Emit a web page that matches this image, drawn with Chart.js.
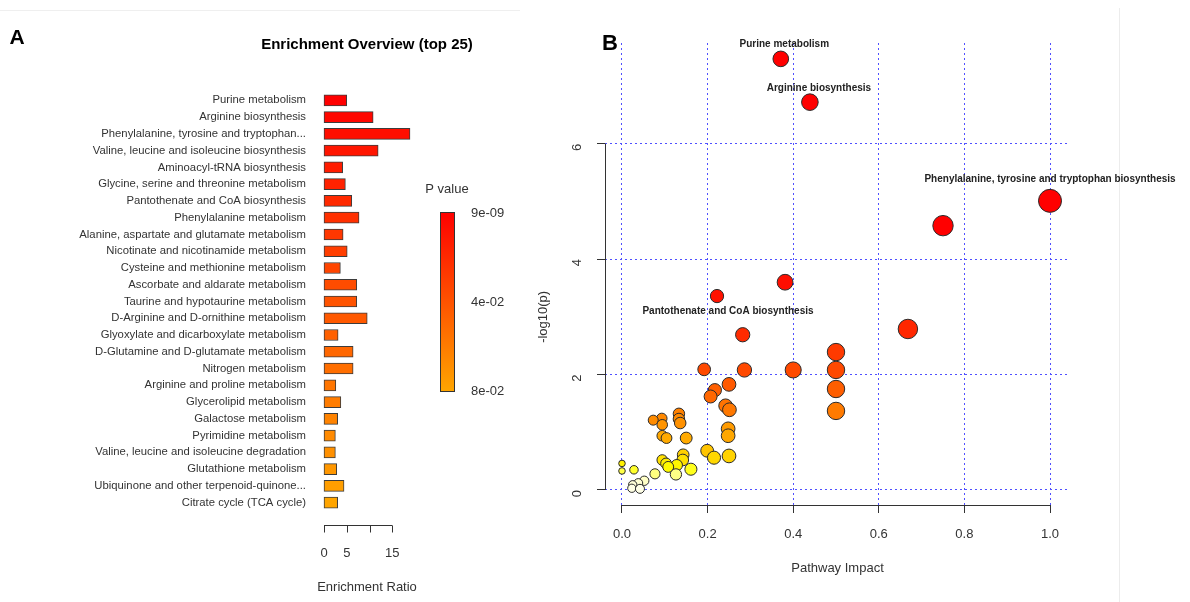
<!DOCTYPE html>
<html>
<head>
<meta charset="utf-8">
<script src="https://cdn.jsdelivr.net/npm/chart.js@4.4.0/dist/chart.umd.min.js"></script>
<style>
  html, body { margin: 0; padding: 0; background: #fff; }
  #wrap { position: relative; width: 1190px; height: 602px; overflow: hidden; }
  canvas { position: absolute; top: 0; }
  #enrich { left: 0; }
  #impact { left: 520px; }
</style>
</head>
<body>
<div id="wrap">
  <canvas id="enrich" width="520" height="602"></canvas>
  <canvas id="impact" width="670" height="602"></canvas>
</div>
<script>
const FONT = "'Liberation Sans', Arial, Helvetica, sans-serif";
Chart.defaults.font.family = FONT;

// ---- Panel A: enrichment overview ----
const pathways = [
  'Purine metabolism',
  'Arginine biosynthesis',
  'Phenylalanine, tyrosine and tryptophan...',
  'Valine, leucine and isoleucine biosynthesis',
  'Aminoacyl-tRNA biosynthesis',
  'Glycine, serine and threonine metabolism',
  'Pantothenate and CoA biosynthesis',
  'Phenylalanine metabolism',
  'Alanine, aspartate and glutamate metabolism',
  'Nicotinate and nicotinamide metabolism',
  'Cysteine and methionine metabolism',
  'Ascorbate and aldarate metabolism',
  'Taurine and hypotaurine metabolism',
  'D-Arginine and D-ornithine metabolism',
  'Glyoxylate and dicarboxylate metabolism',
  'D-Glutamine and D-glutamate metabolism',
  'Nitrogen metabolism',
  'Arginine and proline metabolism',
  'Glycerolipid metabolism',
  'Galactose metabolism',
  'Pyrimidine metabolism',
  'Valine, leucine and isoleucine degradation',
  'Glutathione metabolism',
  'Ubiquinone and other terpenoid-quinone...',
  'Citrate cycle (TCA cycle)'
];
const enrichmentRatio = [
  5.0, 10.8, 18.9, 11.9, 4.1, 4.7, 6.1, 7.7, 4.2, 5.1,
  3.6, 7.2, 7.2, 9.5, 3.1, 6.4, 6.4, 2.6, 3.7, 3.0,
  2.5, 2.5, 2.8, 4.4, 3.0
];
const ratioTicks = [0, 5, 10, 15];
const ratioTickLabels = ['0', '5', '', '15'];
const pValueLegend = ['9e-09', '4e-02', '8e-02'];

// ---- Panel B: pathway impact ----
const pathwayImpact = [
  0.371, 0.439, 1.0, 0.75, 0.381, 0.222, 0.668, 0.282, 0.5, 0.192,
  0.286, 0.400, 0.5, 0.25, 0.5, 0.217, 0.207, 0.242, 0.251, 0.5,
  0.133, 0.093, 0.133, 0.073, 0.136, 0.094, 0.248, 0.094, 0.248, 0.104,
  0.150, 0.199, 0.143, 0.25, 0.215, 0.142, 0.094, 0.103, 0.0, 0.128,
  0.108, 0.161, 0.028, 0.0, 0.077, 0.126, 0.052, 0.038, 0.025, 0.023,
  0.042
];
const negLog10P = [
  7.47, 6.72, 5.01, 4.58, 3.60, 3.36, 2.79, 2.69, 2.39, 2.09,
  2.08, 2.08, 2.08, 1.83, 1.75, 1.73, 1.62, 1.46, 1.39, 1.37,
  1.32, 1.24, 1.23, 1.21, 1.16, 1.13, 1.06, 0.94, 0.94, 0.90,
  0.90, 0.68, 0.61, 0.59, 0.56, 0.52, 0.52, 0.46, 0.46, 0.43,
  0.40, 0.36, 0.35, 0.33, 0.28, 0.27, 0.16, 0.12, 0.09, 0.03,
  0.02
];
const impactTicks = [0, 0.2, 0.4, 0.6, 0.8, 1.0];
const logPTicks = [0, 2, 4, 6];
const labeledPathways = [
  'Purine metabolism',
  'Arginine biosynthesis',
  'Phenylalanine, tyrosine and tryptophan biosynthesis',
  'Pantothenate and CoA biosynthesis'
];
const labeledIndex = [0, 1, 2, 5];

// ---- colour helpers ----
function mix(a, b, t) {
  const r = Math.round(a[0] + (b[0] - a[0]) * t);
  const g = Math.round(a[1] + (b[1] - a[1]) * t);
  const bl = Math.round(a[2] + (b[2] - a[2]) * t);
  return `rgb(${r},${g},${bl})`;
}
const RED = [255, 0, 0], ORANGE = [255, 165, 0];
const rowColors = pathways.map((_, i) => mix(RED, ORANGE, i / (pathways.length - 1)));

function hsv(h, s, v) {
  const i = Math.floor(h * 6), f = h * 6 - i;
  const p = v * (1 - s), q = v * (1 - f * s), t = v * (1 - (1 - f) * s);
  let r, g, b;
  switch (i % 6) {
    case 0: r = v; g = t; b = p; break;
    case 1: r = q; g = v; b = p; break;
    case 2: r = p; g = v; b = t; break;
    case 3: r = p; g = q; b = v; break;
    case 4: r = t; g = p; b = v; break;
    default: r = v; g = p; b = q;
  }
  return `rgb(${Math.round(r * 255)},${Math.round(g * 255)},${Math.round(b * 255)})`;
}
// heat scale keyed on -log10(p): [value, hue in degrees, saturation]
const heatStops = [
  [0.00, 60, 0.08], [0.15, 60, 0.20], [0.30, 60, 0.55], [0.38, 60, 1],
  [0.45, 57, 1], [0.55, 51, 1], [0.65, 47, 1], [0.90, 40, 1], [1.00, 38, 1],
  [1.20, 33, 1], [1.40, 28, 1], [1.75, 22, 1], [2.10, 17, 1], [2.70, 10, 1],
  [3.40, 4, 1], [4.50, 0, 1]
];
function heatColor(v) {
  if (v <= heatStops[0][0]) return hsv(heatStops[0][1] / 360, heatStops[0][2], 1);
  for (let k = 1; k < heatStops.length; k++) {
    const [v1, h1, s1] = heatStops[k];
    const [v0, h0, s0] = heatStops[k - 1];
    if (v <= v1) {
      const t = (v - v0) / (v1 - v0);
      return hsv((h0 + (h1 - h0) * t) / 360, s0 + (s1 - s0) * t, 1);
    }
  }
  return hsv(0, 1, 1);
}
const radiusFor = x => 3.3 + 8.2 * Math.pow(Math.max(x, 0), 0.6);

// ---- Panel A drawing extras: title, R-style axis, p-value legend ----
const enrichDecor = {
  id: 'enrichDecor',
  afterDraw(chart) {
    const { ctx, chartArea: ca, scales: { x } } = chart;
    ctx.save();
    // faint frame line along the top
    ctx.strokeStyle = '#efefef';
    ctx.lineWidth = 1;
    ctx.beginPath(); ctx.moveTo(0, 10.5); ctx.lineTo(520, 10.5); ctx.stroke();

    ctx.fillStyle = '#000';
    ctx.textBaseline = 'middle';
    ctx.textAlign = 'center';
    ctx.font = `bold 21px ${FONT}`;
    ctx.fillText('A', 17, 38);
    const cx = (ca.left + ca.right) / 2;
    ctx.font = `bold 15px ${FONT}`;
    ctx.fillText('Enrichment Overview (top 25)', cx, 45);

    // axis below the bars
    const ay = ca.bottom + 14.5;
    ctx.strokeStyle = '#333';
    ctx.beginPath();
    ctx.moveTo(x.getPixelForValue(ratioTicks[0]), ay);
    ctx.lineTo(x.getPixelForValue(ratioTicks[ratioTicks.length - 1]), ay);
    ratioTicks.forEach(v => {
      const px = Math.round(x.getPixelForValue(v)) + 0.5;
      ctx.moveTo(px, ay); ctx.lineTo(px, ay + 7);
    });
    ctx.stroke();
    ctx.fillStyle = '#333';
    ctx.font = `13px ${FONT}`;
    ratioTicks.forEach((v, i) => ctx.fillText(ratioTickLabels[i], x.getPixelForValue(v), ay + 28));
    ctx.fillText('Enrichment Ratio', cx, ay + 62);

    // p-value colour legend
    ctx.fillText('P value', 447, 189);
    const lx = 440, ly = 212, lw = 14, lh = 179;
    const grad = ctx.createLinearGradient(0, ly, 0, ly + lh);
    grad.addColorStop(0, mix(RED, ORANGE, 0));
    grad.addColorStop(1, mix(RED, ORANGE, 1));
    ctx.fillStyle = grad;
    ctx.fillRect(lx, ly, lw, lh);
    ctx.strokeStyle = '#333';
    ctx.strokeRect(lx + 0.5, ly + 0.5, lw, lh);
    ctx.fillStyle = '#333';
    ctx.textAlign = 'left';
    pValueLegend.forEach((t, i) => ctx.fillText(t, 471, ly + 1 + i * (lh - 1) / (pValueLegend.length - 1)));
    ctx.restore();
  }
};

new Chart(document.getElementById('enrich'), {
  type: 'bar',
  data: {
    labels: pathways,
    datasets: [{
      data: enrichmentRatio,
      backgroundColor: rowColors,
      borderColor: '#3c3c3c',
      borderWidth: 1,
      borderSkipped: false,
      barThickness: 11,
      clip: false
    }]
  },
  options: {
    indexAxis: 'y',
    responsive: false,
    animation: false,
    events: [],
    layout: { padding: { top: 92, right: 110, bottom: 91, left: 0 } },
    plugins: { legend: { display: false }, tooltip: { enabled: false } },
    scales: {
      x: { type: 'linear', min: 0, max: Math.max(...enrichmentRatio), display: false },
      y: {
        grid: { display: false, drawTicks: false },
        border: { display: false },
        ticks: { color: '#333', font: { size: 11.3 }, padding: 18, autoSkip: false },
        afterFit: s => { s.width = 324; }
      }
    }
  },
  plugins: [enrichDecor]
});

// ---- Panel B drawing extras: axes lines, y title, point labels ----
const impactDecor = {
  id: 'impactDecor',
  afterDraw(chart) {
    const { ctx, chartArea: ca, scales: { x, y } } = chart;
    ctx.save();
    ctx.strokeStyle = '#ececec';
    ctx.lineWidth = 1;
    ctx.beginPath(); ctx.moveTo(599.5, 8); ctx.lineTo(599.5, 602); ctx.stroke();

    ctx.strokeStyle = '#333';
    ctx.beginPath();
    ctx.moveTo(x.getPixelForValue(impactTicks[0]), ca.bottom + 0.5);
    ctx.lineTo(x.getPixelForValue(impactTicks[impactTicks.length - 1]), ca.bottom + 0.5);
    ctx.moveTo(ca.left + 0.5, y.getPixelForValue(logPTicks[0]));
    ctx.lineTo(ca.left + 0.5, y.getPixelForValue(logPTicks[logPTicks.length - 1]));
    ctx.stroke();

    ctx.fillStyle = '#000';
    ctx.textAlign = 'center';
    ctx.textBaseline = 'middle';
    ctx.font = `bold 22px ${FONT}`;
    ctx.fillText('B', 90, 44);

    ctx.fillStyle = '#333';
    ctx.font = `13px ${FONT}`;
    ctx.save();
    ctx.translate(23, (y.getPixelForValue(logPTicks[0]) + y.getPixelForValue(logPTicks[logPTicks.length - 1])) / 2);
    ctx.rotate(-Math.PI / 2);
    ctx.fillText('-log10(p)', 0, 0);
    ctx.restore();

    const offsets = [[3.5, -15], [9, -14], [0, -22], [11, 15]];
    ctx.fillStyle = '#222';
    ctx.font = `bold 10px ${FONT}`;
    labeledIndex.forEach((idx, k) => {
      const px = x.getPixelForValue(pathwayImpact[idx]);
      const py = y.getPixelForValue(negLog10P[idx]);
      ctx.fillText(labeledPathways[k], px + offsets[k][0], py + offsets[k][1]);
    });
    ctx.restore();
  }
};

const gridStyle = {
  color: 'rgb(80,80,255)',
  lineWidth: 1,
  borderDash: [2, 3],
  drawTicks: true,
  tickLength: 8,
  tickColor: '#333',
  tickBorderDash: [],
  tickWidth: 1
};

new Chart(document.getElementById('impact'), {
  type: 'scatter',
  data: {
    datasets: [{
      data: pathwayImpact.map((v, i) => ({ x: v, y: negLog10P[i] })),
      pointRadius: c => radiusFor(c.raw.x),
      pointHoverRadius: c => radiusFor(c.raw.x),
      pointBackgroundColor: c => heatColor(c.raw.y),
      pointBorderColor: '#2a2a2a',
      pointBorderWidth: 1,
      clip: false
    }]
  },
  options: {
    responsive: false,
    animation: false,
    events: [],
    layout: { padding: { top: 43, right: 120, bottom: 0, left: 0 } },
    plugins: { legend: { display: false }, tooltip: { enabled: false } },
    scales: {
      x: {
        type: 'linear', min: -0.0397, max: 1.0467,
        afterBuildTicks: s => { s.ticks = impactTicks.map(v => ({ value: v })); },
        afterFit: s => { s.height = 97; },
        grid: gridStyle,
        border: { display: false, dash: [2, 3] },
        ticks: { padding: 14, color: '#333', font: { size: 13 }, maxRotation: 0, callback: v => Number(v).toFixed(1) },
        title: { display: true, text: 'Pathway Impact', color: '#333', font: { size: 13 }, padding: { top: 0, bottom: 26 } }
      },
      y: {
        type: 'linear', min: -0.26, max: 7.745,
        afterBuildTicks: s => { s.ticks = logPTicks.map(v => ({ value: v })); },
        afterFit: s => { s.width = 85; },
        grid: gridStyle,
        border: { display: false, dash: [2, 3] },
        ticks: { padding: 20, color: '#333', font: { size: 13 }, minRotation: 90, maxRotation: 90, callback: v => String(v) }
      }
    }
  },
  plugins: [impactDecor]
});
</script>
</body>
</html>
